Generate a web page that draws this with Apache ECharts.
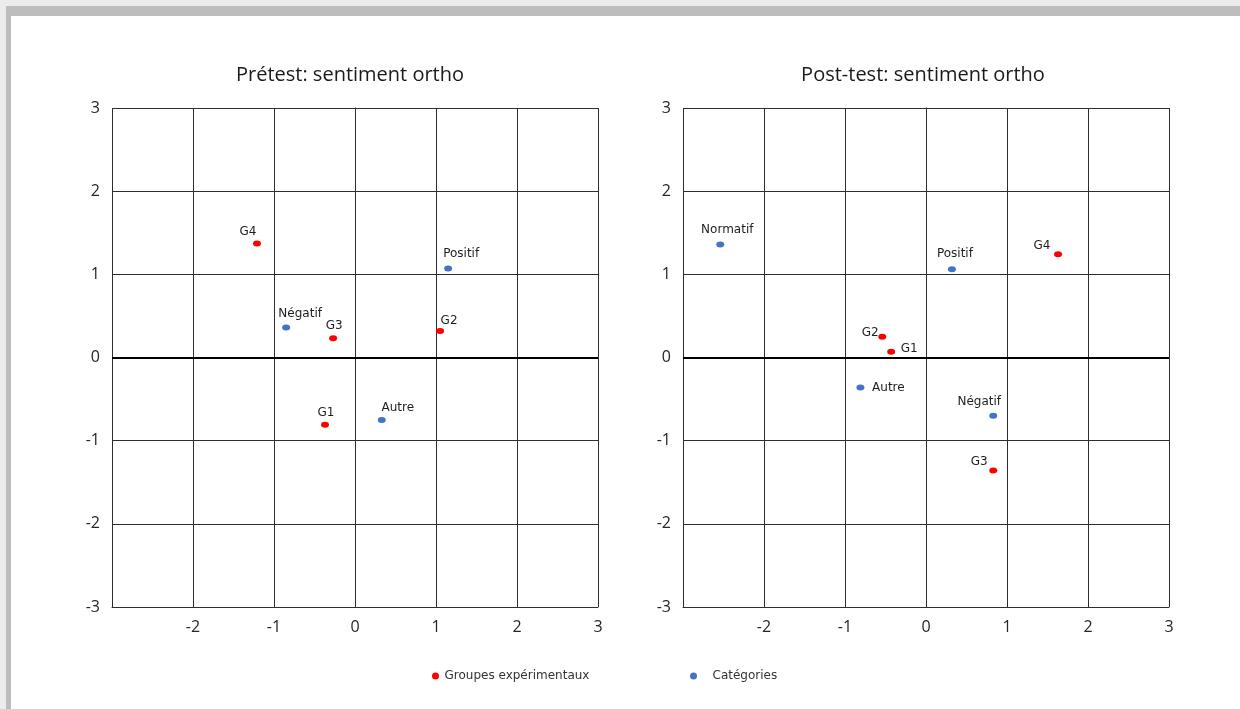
<!DOCTYPE html>
<html>
<head>
<meta charset="utf-8">
<script src="https://cdn.jsdelivr.net/npm/echarts@6/dist/echarts.min.js"></script>
<style>
  html, body { margin: 0; padding: 0; background: #fff; }
  #chart { position: absolute; left: 0; top: 0; width: 1240px; height: 709px; }
  .edge { position: absolute; pointer-events: none; }
</style>
</head>
<body>
<div id="chart"></div>
<div class="edge" style="left:0;top:0;width:1240px;height:6px;background:#ececec"></div>
<div class="edge" style="left:0;top:0;width:6px;height:709px;background:#ececec"></div>
<div class="edge" style="left:6px;top:6px;width:1234px;height:10px;background:#bdbdbd"></div>
<div class="edge" style="left:6px;top:6px;width:5px;height:703px;background:#bdbdbd"></div>
<script>
// pretest
const preGroupNames = ['G1', 'G2', 'G3', 'G4']
const preGroupX = [-0.37, 1.05, -0.27, -1.21]
const preGroupY = [-0.81, 0.32, 0.23, 1.37]
const preCatNames = ['Positif', 'Négatif', 'Autre']
const preCatX = [1.15, -0.85, 0.33]
const preCatY = [1.07, 0.36, -0.75]

// post-test
const postGroupNames = ['G1', 'G2', 'G3', 'G4']
const postGroupX = [-0.43, -0.54, 0.83, 1.63]
const postGroupY = [0.07, 0.25, -1.36, 1.24]
const postCatNames = ['Normatif', 'Positif', 'Autre', 'Négatif']
const postCatX = [-2.54, 0.32, -0.81, 0.83]
const postCatY = [1.36, 1.06, -0.36, -0.70]

const ticks = [-3, -2, -1, 0, 1, 2, 3]
const titles = ['Prétest: sentiment ortho', 'Post-test: sentiment ortho']
const legendNames = ['Groupes expérimentaux', 'Catégories']

// label offsets (style only)
const preOffsets = {
  G1: [1, 1], G2: [9, 3], G3: [1, 1], G4: [-9, 1],
  Positif: [13, -2], 'Négatif': [14, -1], Autre: [16, 1]
}
const postOffsets = {
  G1: [18, 10], G2: [-12, 9], G3: [-14, 4], G4: [-16, 5],
  Normatif: [7, -2], Positif: [3, -2], Autre: [28, 13], 'Négatif': [-14, -1]
}

function points(names, xs, ys, offsets) {
  return names.map((n, i) => ({
    name: n,
    value: [xs[i], ys[i]],
    label: { offset: offsets[n] }
  }))
}

const lineColor = '#2e2e2e'
const axisFont = { fontFamily: 'Open Sans', fontSize: 16, color: '#262626' }

function makeX(gridIndex) {
  return {
    type: 'value', gridIndex: gridIndex,
    min: ticks[0], max: ticks[ticks.length - 1], interval: 1,
    axisLine: { show: true, onZero: false, lineStyle: { color: lineColor, width: 1 } },
    axisTick: { show: false },
    splitLine: { show: true, lineStyle: { color: lineColor, width: 1 } },
    axisLabel: Object.assign({ margin: 12, showMinLabel: false }, axisFont)
  }
}
function makeY(gridIndex) {
  return {
    type: 'value', gridIndex: gridIndex,
    min: ticks[0], max: ticks[ticks.length - 1], interval: 1,
    axisLine: { show: true, lineStyle: { color: lineColor, width: 1 } },
    axisTick: { show: false },
    splitLine: { show: true, lineStyle: { color: lineColor, width: 1 } },
    axisLabel: Object.assign({ margin: 12 }, axisFont)
  }
}

const labelStyle = {
  show: true, position: 'top', distance: 4,
  formatter: '{b}', fontFamily: 'DejaVu Sans', fontSize: 12, color: '#1e1e1e'
}

function scatter(name, idx, data, color, withZero) {
  const s = {
    name: name, type: 'scatter',
    xAxisIndex: idx, yAxisIndex: idx,
    symbol: 'circle', symbolSize: [8, 6],
    itemStyle: { color: color, opacity: 1 },
    label: labelStyle,
    data: data,
    z: 5
  }
  if (withZero) {
    s.markLine = {
      silent: true, symbol: 'none', label: { show: false },
      lineStyle: { color: '#000', width: 2, type: 'solid' },
      data: [{ yAxis: 0 }]
    }
  }
  return s
}

const chart = echarts.init(document.getElementById('chart'), null, { renderer: 'canvas' })
chart.setOption({
  animation: false,
  backgroundColor: '#fff',
  title: [
    { text: titles[0], left: 345, top: 60, textAlign: 'center',
      textStyle: { fontFamily: 'Open Sans', fontSize: 20, fontWeight: 'normal', color: '#1a1a1a' } },
    { text: titles[1], left: 918, top: 60, textAlign: 'center',
      textStyle: { fontFamily: 'Open Sans', fontSize: 20, fontWeight: 'normal', color: '#1a1a1a' } }
  ],
  legend: [
    { data: [legendNames[0]], left: 427, top: 665, icon: 'circle', itemWidth: 8, itemHeight: 7,
      itemStyle: { opacity: 1 },
      textStyle: { fontFamily: 'DejaVu Sans', fontSize: 12, color: '#333' } },
    { data: [legendNames[1]], left: 685, top: 665, icon: 'circle', itemWidth: 8, itemHeight: 7,
      itemStyle: { opacity: 1 },
      textStyle: { fontFamily: 'DejaVu Sans', fontSize: 12, color: '#333', padding: [0, 0, 0, 10] } }
  ],
  grid: [
    { left: 112, top: 108, width: 486, height: 499 },
    { left: 683, top: 108, width: 486, height: 499 }
  ],
  xAxis: [makeX(0), makeX(1)],
  yAxis: [makeY(0), makeY(1)],
  series: [
    scatter(legendNames[0], 0, points(preGroupNames, preGroupX, preGroupY, preOffsets), '#ff0000', true),
    scatter(legendNames[1], 0, points(preCatNames, preCatX, preCatY, preOffsets), '#4472c4', false),
    scatter(legendNames[0], 1, points(postGroupNames, postGroupX, postGroupY, postOffsets), '#ff0000', true),
    scatter(legendNames[1], 1, points(postCatNames, postCatX, postCatY, postOffsets), '#4472c4', false)
  ]
})
</script>
</body>
</html>
